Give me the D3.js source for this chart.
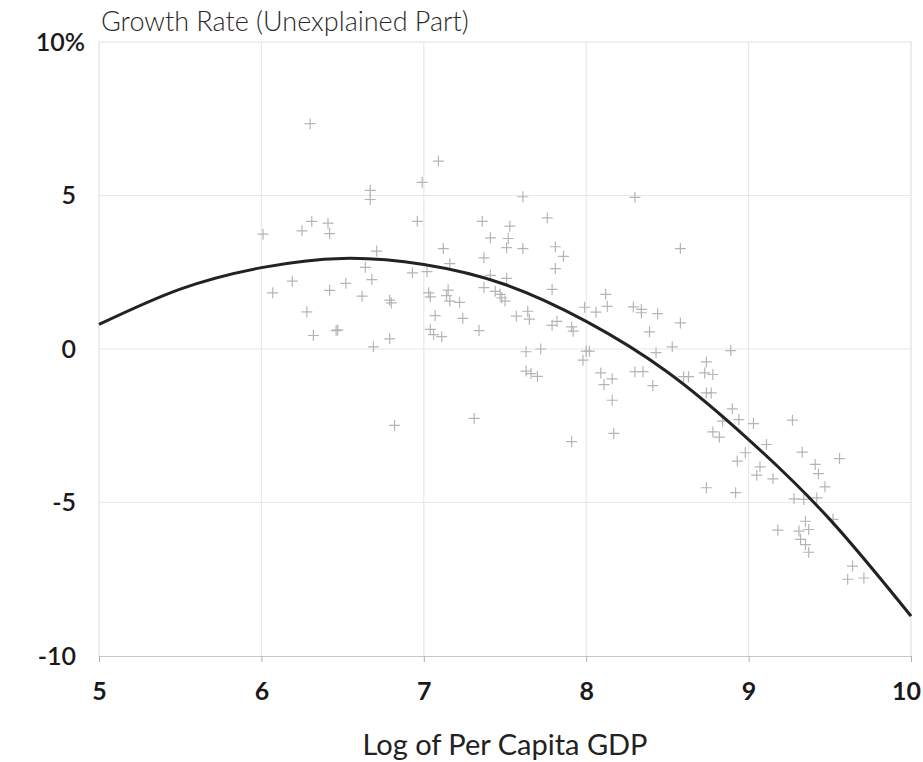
<!DOCTYPE html>
<html>
<head>
<meta charset="utf-8">
<script src="https://cdn.jsdelivr.net/npm/d3@7"></script>
<style>
  html, body { margin: 0; padding: 0; background: #fff; }
  svg { display: block; }
  text { font-family: Lato, "Open Sans", sans-serif; }
</style>
</head>
<body>
<svg id="chart" width="923" height="762"></svg>
<script>
// ---- data ----
const xTicks = [5, 6, 7, 8, 9, 10];
const yTicks = [10, 5, 0, -5, -10];
const yTickLabels = ["10%", "5", "0", "-5", "-10"];
const titleText = "Growth Rate (Unexplained Part)";
const xAxisTitle = "Log of Per Capita GDP";

// scatter: log per-capita GDP
const pointX = [
  6.30, 6.67, 6.67, 6.99, 7.09, 6.01, 6.25, 6.31, 6.41, 6.42,
  6.96, 6.71, 6.64, 6.93, 7.02, 6.19, 6.52, 6.68, 6.07, 6.42,
  6.62, 6.79, 6.80, 7.03, 7.04, 7.12, 6.28, 7.07, 6.46, 6.47,
  6.32, 6.79, 6.69, 7.04, 7.06, 6.82, 7.61, 7.36, 7.76, 7.53,
  7.41, 7.52, 7.51, 7.61, 7.81, 7.86, 7.37, 7.81, 7.16, 7.41,
  7.51, 7.37, 7.44, 7.47, 7.79, 7.15, 7.14, 7.16, 7.22, 7.50,
  7.48, 8.12, 8.13, 7.99, 8.06, 7.24, 7.57, 7.64, 7.65, 7.82,
  7.79, 7.91, 7.92, 7.11, 7.34, 7.63, 7.72, 8.00, 8.02, 7.98,
  7.63, 7.66, 7.70, 8.09, 8.16, 8.11, 8.30, 8.58, 8.29, 8.34,
  8.34, 8.44, 8.58, 8.39, 8.53, 8.43, 8.89, 8.74, 8.30, 8.35,
  8.60, 8.63, 8.73, 8.78, 8.41, 8.16, 8.74, 8.77, 8.90, 8.84,
  8.94, 9.03, 9.27, 8.78, 8.82, 9.11, 8.98, 8.93, 9.33, 9.56,
  9.41, 9.43, 9.07, 9.05, 9.15, 9.47, 8.74, 8.92, 9.28, 9.34,
  9.42, 9.52, 9.35, 9.37, 9.18, 9.31, 9.32, 9.35, 9.37, 9.64,
  9.61, 9.71, 7.31, 7.91, 8.17
];
// scatter: growth rate (unexplained part), %
const pointY = [
  7.34, 5.17, 4.87, 5.43, 6.12, 3.74, 3.85, 4.16, 4.10, 3.76,
  4.16, 3.19, 2.66, 2.48, 2.52, 2.21, 2.14, 2.26, 1.83, 1.91,
  1.72, 1.59, 1.50, 1.83, 1.70, 3.27, 1.21, 1.09, 0.60, 0.62,
  0.44, 0.33, 0.07, 0.64, 0.47, -2.49, 4.96, 4.16, 4.27, 4.00,
  3.62, 3.60, 3.30, 3.27, 3.33, 3.02, 2.97, 2.62, 2.78, 2.40,
  2.30, 2.00, 1.88, 1.78, 1.94, 1.92, 1.74, 1.56, 1.52, 1.56,
  1.67, 1.78, 1.39, 1.36, 1.20, 1.00, 1.07, 1.23, 0.97, 0.90,
  0.77, 0.72, 0.58, 0.40, 0.60, -0.09, 0.00, -0.07, -0.07, -0.36,
  -0.72, -0.80, -0.89, -0.78, -0.97, -1.16, 4.94, 3.27, 1.37, 1.29,
  1.18, 1.15, 0.85, 0.56, 0.07, -0.12, -0.05, -0.42, -0.74, -0.74,
  -0.90, -0.90, -0.78, -0.83, -1.19, -1.67, -1.43, -1.43, -1.95, -2.35,
  -2.30, -2.43, -2.32, -2.70, -2.87, -3.11, -3.38, -3.65, -3.36, -3.57,
  -3.76, -4.06, -3.84, -4.11, -4.23, -4.49, -4.52, -4.68, -4.88, -4.90,
  -4.85, -5.55, -5.61, -5.88, -5.90, -5.93, -6.20, -6.37, -6.62, -7.07,
  -7.50, -7.46, -2.26, -3.02, -2.75
];

// fitted curve, read at half-unit steps
const curveX = [5, 5.5, 6, 6.5, 7, 7.5, 8, 8.5, 9, 9.5, 10];
const curveY = [0.8, 1.95, 2.65, 2.95, 2.75, 2.1, 0.9, -0.75, -2.95, -5.55, -8.7];

// ---- drawing ----
const svg = d3.select("#chart");
const plot = { left: 99, right: 911, top: 42, bottom: 656 };

const x = d3.scaleLinear().domain([5, 10]).range([plot.left, plot.right]);
const y = d3.scaleLinear().domain([-10, 10]).range([plot.bottom, plot.top]);

// gridlines
const grid = svg.append("g");
grid.selectAll("line.vg").data(xTicks.slice(1, -1)).join("line")
  .attr("x1", d => x(d)).attr("x2", d => x(d))
  .attr("y1", plot.top).attr("y2", plot.bottom)
  .attr("stroke", "#e8e8e8").attr("stroke-width", 1.2);
grid.selectAll("line.hg").data(yTicks.slice(1, -1)).join("line")
  .attr("x1", plot.left).attr("x2", plot.right)
  .attr("y1", d => y(d)).attr("y2", d => y(d))
  .attr("stroke", "#e8e8e8").attr("stroke-width", 1.2);

// frame (top, left, right)
svg.append("path")
  .attr("d", `M${plot.left},${plot.bottom}V${plot.top}H${plot.right}V${plot.bottom}`)
  .attr("fill", "none").attr("stroke", "#e2e2e2").attr("stroke-width", 1.2);

// x axis
const xAxis = d3.axisBottom(x).tickValues(xTicks).tickFormat(d3.format("d"))
  .tickSize(6).tickSizeOuter(0).tickPadding(20);
const gx = svg.append("g").attr("transform", `translate(0,${plot.bottom})`).call(xAxis);
gx.select(".domain").attr("stroke", "#c8c8c8").attr("stroke-width", 1.2);
gx.selectAll(".tick line").attr("stroke", "#b0b0b0");
gx.selectAll(".tick text")
  .attr("font-size", 25).attr("font-weight", 700).attr("fill", "#1a1a1a")
  .style("font-family", "Lato, sans-serif");
gx.selectAll(".tick").filter(d => d === 10).select("text").attr("dx", -5);

// y axis labels
const yAxis = d3.axisLeft(y).tickValues(yTicks).tickSize(0)
  .tickFormat((d, i) => yTickLabels[i]).tickPadding(23);
const gy = svg.append("g").attr("transform", `translate(${plot.left},0)`).call(yAxis);
gy.select(".domain").remove();
gy.selectAll(".tick text")
  .attr("font-size", 25).attr("font-weight", 600).attr("fill", "#1a1a1a")
  .style("font-family", "Lato, sans-serif");
gy.selectAll(".tick").filter(d => d === 10).select("text").attr("dx", 9);

// title
svg.append("text").attr("x", plot.left + 2).attr("y", 31)
  .attr("font-size", 27).attr("font-weight", 300).attr("fill", "#2a2a2a")
  .text(titleText);

// x axis title
svg.append("text").attr("x", (plot.left + plot.right) / 2).attr("y", 755)
  .attr("text-anchor", "middle").attr("font-size", 29).attr("fill", "#222")
  .text(xAxisTitle);

// scatter crosses
const pts = pointX.map((v, i) => [v, pointY[i]]);
const arm = 5.5;
svg.append("g").selectAll("path").data(pts).join("path")
  .attr("d", d => {
    const cx = x(d[0]), cy = y(d[1]);
    return `M${cx - arm},${cy}H${cx + arm}M${cx},${cy - arm}V${cy + arm}`;
  })
  .attr("stroke", "#b5b5b5").attr("stroke-width", 1.2).attr("fill", "none");

// fitted curve
const line = d3.line().x(d => x(d[0])).y(d => y(d[1])).curve(d3.curveNatural);
svg.append("path").datum(curveX.map((v, i) => [v, curveY[i]]))
  .attr("d", line).attr("fill", "none").attr("stroke", "#222").attr("stroke-width", 3);
</script>
</body>
</html>
